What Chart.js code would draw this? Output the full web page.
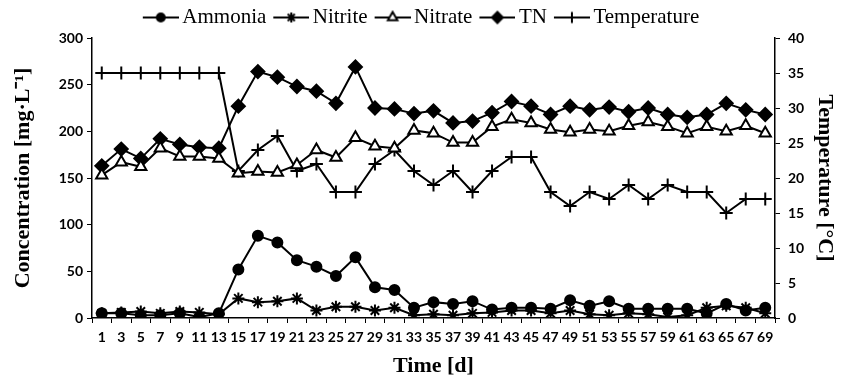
<!DOCTYPE html>
<html>
<head>
<meta charset="utf-8">
<script src="https://cdn.jsdelivr.net/npm/chart.js@4"></script>
<style>
  html, body { margin: 0; padding: 0; background: #fff; }
  #wrap { width: 842px; height: 385px; position: relative; }
</style>
</head>
<body>
<div id="wrap"><canvas id="myChart"></canvas></div>
<script>
const days = ["1","3","5","7","9","11","13","15","17","19","21","23","25","27","29","31","33","35",
  "37","39","41","43","45","47","49","51","53","55","57","59","61","63","65","67","69"];

const ammonia = [5,5,3,3,5,1,5,52,88,81,62,55,45,65,33,30,11,17,15,18,9,11,11,10,19,13,18,10,10,10,10,5,15,8,11];
const nitrite = [5,6,7,5,7,6,4,21,17,18,21,8,12,12,8,11,3,4,3,5,6,8,8,5,8,4,3,5,4,1,3,11,13,11,5];
const nitrate = [153,167,162,182,173,173,171,155,157,156,164,180,172,193,184,182,201,198,188,188,205,213,209,202,199,202,200,206,210,205,198,205,200,206,198];
const tn = [163,181,171,192,186,183,182,227,264,258,248,243,230,269,225,224,219,222,209,211,220,232,227,218,227,223,226,221,225,218,215,218,230,223,218];
const temperature = [35,35,35,35,35,35,35,21,24,26,21,22,18,18,22,24,21,19,21,18,21,23,23,18,16,18,17,19,17,19,18,18,15,17,17];

const concTicks = [0, 50, 100, 150, 200, 250, 300];
const tempTicks = [0, 5, 10, 15, 20, 25, 30, 35, 40];

const styles = [
  { style: "circle", radius: 5, fill: "#000" },
  { style: "star", radius: 6, fill: "#000" },
  { style: "triangle", radius: 6.5, fill: "#fff" },
  { style: "rectRot", radius: 6.5, fill: "#000" },
  { style: "cross", radius: 6.5, fill: "#000" },
];

// legend icons: short line with the marker in the middle
function makeIcon(s) {
  const c = document.createElement("canvas");
  c.width = 43;
  c.height = 16;
  const g = c.getContext("2d");
  g.strokeStyle = "#000";
  g.lineWidth = 2;
  g.beginPath();
  g.moveTo(7, 8);
  g.lineTo(43, 8);
  g.stroke();
  g.fillStyle = s.fill;
  g.lineWidth = 2;
  Chart.helpers.drawPoint(g, { pointStyle: s.style, radius: s.radius - 1, borderWidth: 2, rotation: 0 }, 25, 8);
  return c;
}

function makeSet(label, data, s, axis) {
  return {
    label: label,
    data: data,
    yAxisID: axis,
    borderColor: "#000",
    borderWidth: 2,
    backgroundColor: s.fill,
    pointStyle: s.style,
    pointRadius: s.radius,
    pointBorderWidth: 2,
    pointBackgroundColor: s.fill,
    pointBorderColor: "#000",
    tension: 0,
  };
}

const icons = styles.map(makeIcon);
const tickFont = { family: "Lato", size: 14, weight: "bold" };
const titleFont = { family: "Liberation Serif", size: 22, weight: "bold" };

new Chart(document.getElementById("myChart"), {
  type: "line",
  data: {
    labels: days,
    datasets: [
      makeSet("Ammonia", ammonia, styles[0], "y"),
      makeSet("Nitrite", nitrite, styles[1], "y"),
      makeSet("Nitrate", nitrate, styles[2], "y"),
      makeSet("TN", tn, styles[3], "y"),
      makeSet("Temperature", temperature, styles[4], "y1"),
    ],
  },
  options: {
    responsive: true,
    maintainAspectRatio: false,
    animation: false,
    layout: { padding: { top: 0, left: 0, right: 0, bottom: 0 } },
    plugins: {
      tooltip: { enabled: false },
      legend: {
        position: "top",
        labels: {
          usePointStyle: true,
          pointStyleWidth: 29,
          padding: 7,
          color: "#000",
          font: { family: "Liberation Serif", size: 21 },
          generateLabels: (chart) =>
            Chart.defaults.plugins.legend.labels.generateLabels(chart).map((l, i) => ({ ...l, pointStyle: icons[i] })),
        },
      },
    },
    scales: {
      x: {
        offset: true,
        border: { color: "#000", width: 1.5 },
        grid: { display: true, drawOnChartArea: false, offset: true, color: "#000", tickLength: 5, lineWidth: 1 },
        ticks: { color: "#000", font: tickFont, autoSkip: false, maxRotation: 0, padding: 6 },
        title: { display: true, text: "Time [d]", color: "#000", font: titleFont, padding: { top: 4, bottom: 5 } },
        afterFit: (s) => { s.height = 67; },
      },
      y: {
        position: "left",
        min: 0,
        max: 300,
        afterBuildTicks: (s) => { s.ticks = concTicks.map((v) => ({ value: v })); },
        border: { color: "#000", width: 1.5 },
        grid: { display: true, drawOnChartArea: false, color: "#000", tickLength: 5 },
        ticks: { color: "#000", font: tickFont, padding: 4 },
        title: { display: true, text: "Concentration [mg·L⁻¹]", color: "#000", font: titleFont, padding: { top: 10, bottom: 2 } },
        afterFit: (s) => { s.width = 92; },
      },
      y1: {
        position: "right",
        min: 0,
        max: 40,
        afterBuildTicks: (s) => { s.ticks = tempTicks.map((v) => ({ value: v })); },
        border: { color: "#000", width: 1.5 },
        grid: { display: true, drawOnChartArea: false, color: "#000", tickLength: 5 },
        ticks: { color: "#000", font: tickFont, padding: 8 },
        title: { display: true, text: "Temperature [°C]", color: "#000", font: titleFont, padding: { top: 4, bottom: 12 } },
        afterFit: (s) => { s.width = 67; },
      },
    },
  },
});
</script>
</body>
</html>
